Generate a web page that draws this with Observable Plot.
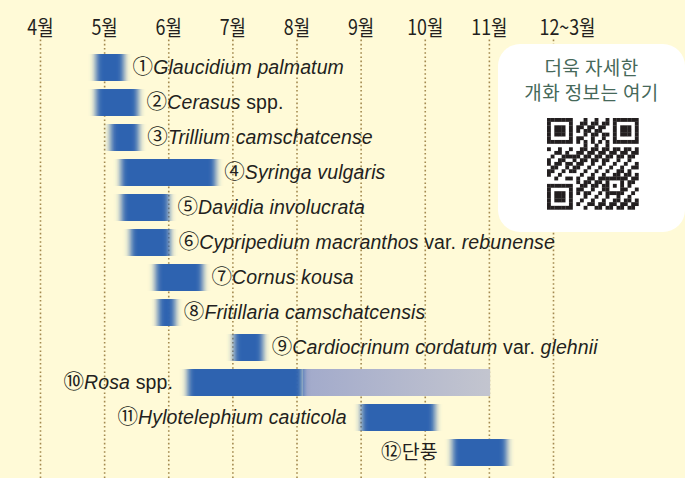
<!DOCTYPE html>
<html><head><meta charset="utf-8">
<script src="https://cdn.jsdelivr.net/npm/d3@7"></script>
<script src="https://cdn.jsdelivr.net/npm/@observablehq/plot@0.6"></script>
<style>
html,body{margin:0;padding:0;background:#fffad7;overflow:hidden;}
#wrap{position:relative;width:685px;height:478px;}
#qrbox{position:absolute;left:498px;top:44px;width:187px;height:188px;background:#fff;border-radius:22px;text-align:center;}
#qrbox .t{font-family:'Noto Sans CJK KR',sans-serif;font-size:19px;line-height:25px;color:#46695a;margin-top:10px;letter-spacing:0.4px;}
#qrbox svg{position:absolute;left:49px;top:74px;}
</style>
</head><body>
<div id="wrap">
<div id="chart"></div>
<div id="qrbox"><div class="t">더욱 자세한<br>개화 정보는 여기</div><svg id="qr" width="92" height="92"></svg></div>
</div>
<script>
// ---- data ----
const labels = [
  "①*Glaucidium palmatum*",
  "②*Cerasus* spp.",
  "③*Trillium camschatcense*",
  "④*Syringa vulgaris*",
  "⑤*Davidia involucrata*",
  "⑥*Cypripedium macranthos* var. *rebunense*",
  "⑦*Cornus kousa*",
  "⑧*Fritillaria camschatcensis*",
  "⑨*Cardiocrinum cordatum* var. *glehnii*",
  "⑩*Rosa* spp.",
  "⑪*Hylotelephium cauticola*",
  "⑫단풍"
];
// bloom period in month units (4 = start of April ... 12 = Dec~Mar)
const starts = [4.87, 4.87, 5.10, 5.26, 5.27, 5.41, 5.80, 5.84, 7.02, 6.30, 9.01, 10.43];
const ends   = [5.31, 5.53, 5.54, 6.74, 6.01, 6.03, 6.54, 6.11, 7.48, 11.02, 10.16, 11.28];
// end of full bloom where a long tail of sparse blooming follows (Rosa)
const fullBloomEnds = [null, null, null, null, null, null, null, null, null, 8.10, null, null];
const labelSide = ["right","right","right","right","right","right","right","right","right","left","left","left"];
const monthTicks = [4, 5, 6, 7, 8, 9, 10, 11, 12];
const monthLabels = ["4월","5월","6월","7월","8월","9월","10월","11월","12~3월"];

const rows = labels.map((label, i) => ({
  id: i, label, start: starts[i], end: ends[i], fullEnd: fullBloomEnds[i], side: labelSide[i]
}));

const BLUE = "#2d63b0";
const INK = "#231f20";
const labelFont = "'Liberation Sans','Noto Sans CJK KR',sans-serif";

const chart = Plot.plot({
  width: 685, height: 478,
  marginTop: 45.6, marginBottom: 3.1, marginLeft: 40, marginRight: 132,
  style: {background: "#fffad7", overflow: "visible"},
  x: {domain: [4, 12], axis: null},
  y: {domain: rows.map(d => d.id), axis: null, paddingInner: 0.24, paddingOuter: 0.12},
  marks: [
    Plot.ruleX(monthTicks, {x: d => d, stroke: "#a3894f", strokeWidth: 1.6, strokeDasharray: "1.6,2.6", insetTop: -6, insetBottom: -4}),
    Plot.text(monthTicks, {x: d => d, text: (d, i) => monthLabels[i], frameAnchor: "top", lineAnchor: "middle", dy: -17.5,
      fontSize: 21, fontWeight: 400, fontFamily: "'Noto Sans CJK KR',sans-serif", fill: INK}),
    Plot.barX(rows.filter(d => d.fullEnd != null), {x1: "fullEnd", x2: "end", y: "id", fill: "url(#lateGrad)"}),
    Plot.barX(rows, {x1: "start", x2: d => d.fullEnd ?? d.end, y: "id", fill: BLUE}),
    Plot.text(rows.filter(d => d.side === "right"), {x: "end", y: "id", text: "label", textAnchor: "start", dx: 8,
      fontSize: 19.5, fontFamily: labelFont, fill: INK}),
    Plot.text(rows.filter(d => d.side === "left"), {x: "start", y: "id", text: "label", textAnchor: "end", dx: -15,
      fontSize: 19.5, fontFamily: labelFont, fill: INK})
  ]
});
document.getElementById("chart").appendChild(chart);

// defs: horizontal blur for soft bar ends, gradient for the sparse-bloom tail
const svg = d3.select(chart);
const defs = svg.insert("defs", ":first-child");
const f = defs.append("filter").attr("id", "hblur").attr("x", "-10%").attr("width", "120%").attr("y", "-5%").attr("height", "110%");
f.append("feGaussianBlur").attr("stdDeviation", "3 0");
const g = defs.append("linearGradient").attr("id", "lateGrad");
g.append("stop").attr("offset", "0").attr("stop-color", "#a2aacb");
g.append("stop").attr("offset", "1").attr("stop-color", "#c3c5cf");

const barGroups = chart.querySelectorAll('g[aria-label="bar"]');
barGroups[barGroups.length - 1].setAttribute("filter", "url(#hblur)");
const textGroups = chart.querySelectorAll('g[aria-label="text"]');

// month labels: condensed look, last one offset
const mt = Array.from(textGroups[0].querySelectorAll("text"));
mt.forEach((t, i) => {
  const w = t.getComputedTextLength();
  t.setAttribute("textLength", w * 0.85);
  t.setAttribute("lengthAdjust", "spacingAndGlyphs");
  if (i === mt.length - 1) {
    const tr = t.getAttribute("transform");
    if (tr) t.setAttribute("transform", tr + " translate(14,0)");
    else t.setAttribute("x", (+t.getAttribute("x") || 0) + 14);
  }
});

// italic segments in species labels; circled numbers a touch larger
[textGroups[1], textGroups[2]].forEach(grp => grp.querySelectorAll("text").forEach(t => {
  const parts = t.textContent.split("*");
  t.textContent = "";
  t.style.whiteSpace = "pre";
  t.style.letterSpacing = "0.12px";
  parts.forEach((p, k) => {
    if (!p) return;
    let rest = p;
    if (k === 0 && /^[\u2460-\u2473]/.test(p)) {
      const c = document.createElementNS("http://www.w3.org/2000/svg", "tspan");
      c.textContent = p[0];
      c.setAttribute("font-size", "20.5");
      c.setAttribute("font-family", "'Noto Sans CJK KR',sans-serif");
      t.appendChild(c);
      rest = p.slice(1);
      if (!rest) return;
    }
    const ts = document.createElementNS("http://www.w3.org/2000/svg", "tspan");
    ts.textContent = rest;
    if (k % 2 === 1) ts.setAttribute("font-style", "italic");
    if (/[\uac00-\ud7a3]/.test(rest)) ts.setAttribute("font-family", "'Noto Sans CJK KR',sans-serif");
    t.appendChild(ts);
  });
}));

// decorative QR code pattern (deterministic)
(function() {
  const N = 25, m = 3.66;
  const q = d3.select("#qr");
  const on = (i, j) => {
    const fin = (a, b) => {
      const di = i - a, dj = j - b;
      if (di < 0 || dj < 0 || di > 6 || dj > 6) return null;
      if (di === 0 || dj === 0 || di === 6 || dj === 6) return true;
      if (di >= 2 && di <= 4 && dj >= 2 && dj <= 4) return true;
      return false;
    };
    for (const [a, b] of [[0,0],[18,0],[0,18]]) { const r = fin(a, b); if (r !== null) return r; }
    if ((i === 7 && (j < 8 || j > 16)) || (j === 7 && (i < 8 || i > 16)) || (i === 17 && j < 8) || (j === 17 && i < 8)) return false;
    if (i >= 16 && i <= 20 && j >= 16 && j <= 20) {
      const di = i - 18, dj = j - 18;
      return Math.max(Math.abs(di), Math.abs(dj)) !== 1;
    }
    if (i === 6) return j % 2 === 0;
    if (j === 6) return i % 2 === 0;
    const h = Math.imul(i * 374761393 + j * 668265263, 1274126177) >>> 0;
    return ((h >>> 13) % 100) < 50;
  };
  for (let i = 0; i < N; i++) for (let j = 0; j < N; j++) {
    if (on(i, j)) q.append("rect").attr("x", j * m).attr("y", i * m).attr("width", m + 0.2).attr("height", m + 0.2).attr("fill", INK);
  }
})();
</script>
</body></html>
